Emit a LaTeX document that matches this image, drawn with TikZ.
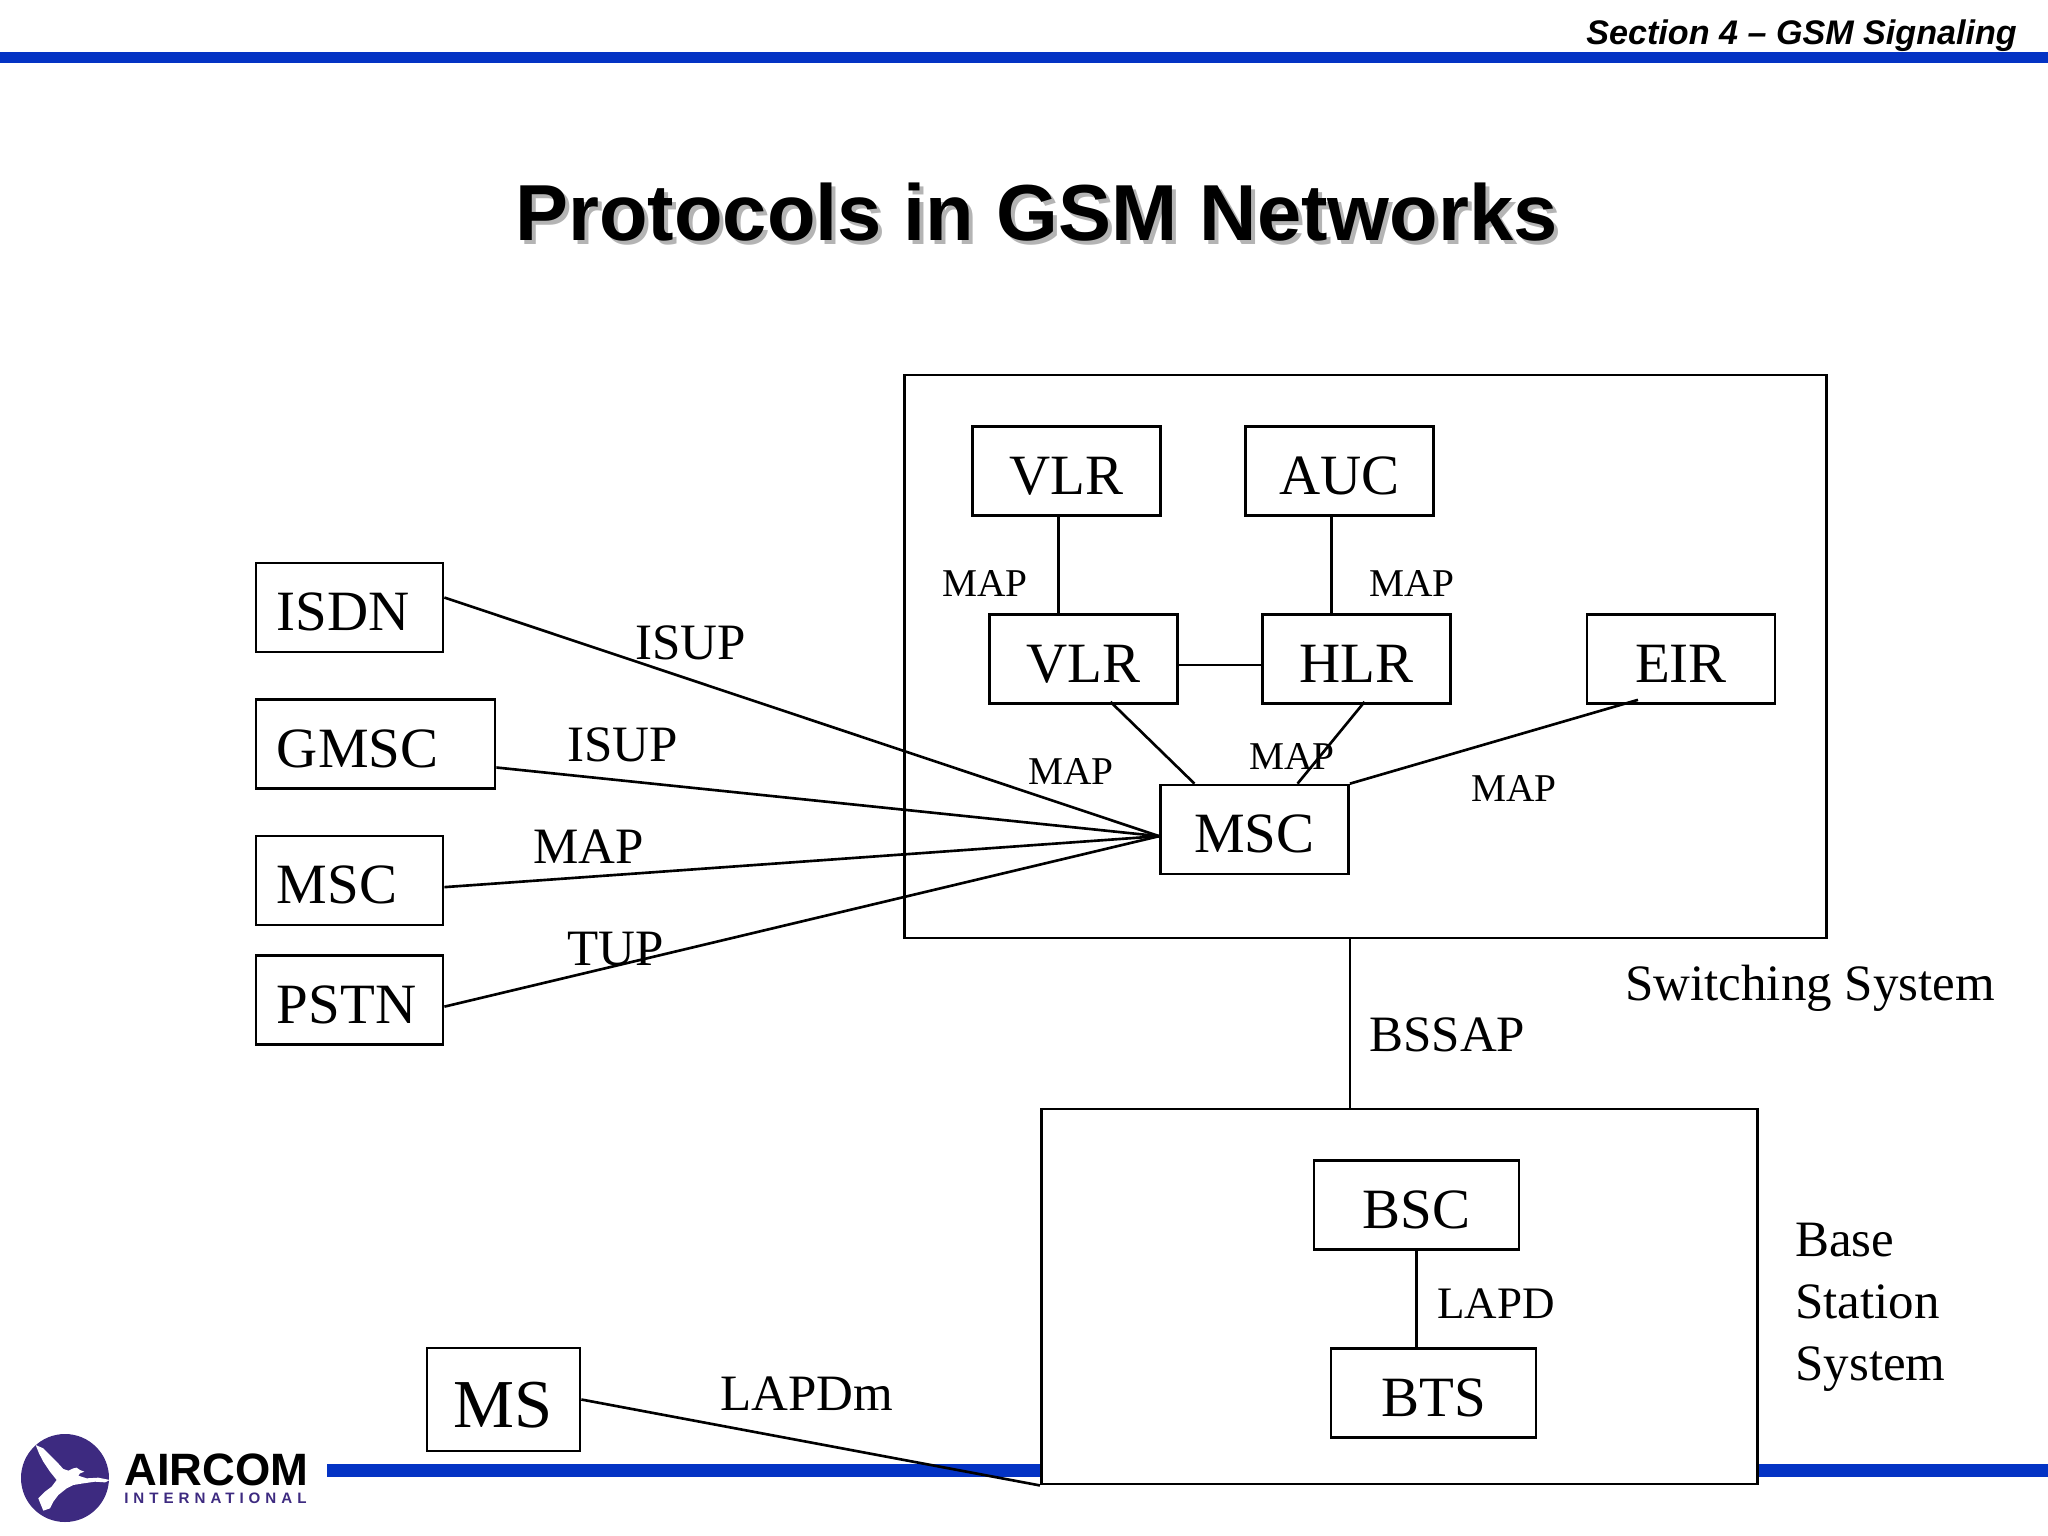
\documentclass[tikz,border=0pt]{standalone}
\usepackage{fontspec}
\setmainfont{Liberation Serif}
\newfontfamily\sansfont{Liberation Sans}
\usetikzlibrary{calc}
\definecolor{barblue}{HTML}{0433C4}
\definecolor{logopurple}{HTML}{3D2A80}
\definecolor{shadowgrey}{HTML}{B4B4B4}
\begin{document}
\begin{tikzpicture}[
    x=0.01cm, y=-0.01cm,
    line width=0.75pt,
    every node/.style={inner sep=0pt},
    group/.style={draw, fill=white},
    box/.style={draw, fill=white, minimum width=1.88cm, minimum height=0.89cm,
      text height=0.46cm, text depth=0pt, font=\fontsize{16.2}{19}\selectfont},
    wide/.style={box, minimum width=2.05cm},
    extbox/.style={box, minimum width=0pt, text width=#1, align=left, inner xsep=0.21cm},
    bigtext/.style={anchor=base west, font=\fontsize{14.5}{17}\selectfont},
    small/.style={anchor=base west, font=\fontsize{11.2}{13}\selectfont},
    link/.style={draw}
  ]
  \useasboundingbox (0,0) rectangle (2048,1536);

  % Slide furniture
  \fill[barblue] (0,52) rectangle (2048,63);
  \fill[barblue] (327,1464) rectangle (2048,1477);
  \node (section) at (2018,44) [anchor=base east, font=\sansfont\fontsize{9.7}{12}\selectfont\bfseries\itshape] {Section 4 – GSM Signaling};
  \node (titleshadow) at (518,244) [anchor=base west, text=shadowgrey, font=\sansfont\fontsize{22.6}{27}\selectfont\bfseries] {Protocols in GSM Networks};
  \node (title) at (514,240) [anchor=base west, font=\sansfont\fontsize{22.6}{27}\selectfont\bfseries] {Protocols in GSM Networks};

  % Logo
  \fill[logopurple] (65,1478) circle (44);
  \begin{scope}[shift={(15,1430)}, scale=1/3]
    \fill[white] (62,45) -- (85,55) -- (105,75) -- (125,95) -- (145,117) -- (160,122) -- (175,115)
      -- (185,113) -- (195,120) -- (208,125) -- (195,130) -- (190,137) -- (215,145) -- (250,143)
      -- (285,150) -- (270,157) -- (240,155) -- (205,160) -- (175,165) -- (155,175) -- (130,195)
      -- (115,215) -- (105,235) -- (85,242) -- (78,225) -- (70,205) -- (90,185) -- (110,170)
      -- (125,150) -- (105,125) -- (85,95) -- (72,70) -- cycle;
  \end{scope}
  \node (aircom) at (123,1485) [anchor=base west, font=\sansfont\fontsize{12.9}{15}\selectfont\bfseries] {AIRCOM};
  \node (intl) at (123,1503) [anchor=base west, text=logopurple, font=\sansfont\fontsize{4.3}{5}\selectfont\bfseries\addfontfeature{LetterSpace=33}] {INTERNATIONAL};

  % Groups
  \node (switching) at (1365.5,656.5) [group, minimum width=9.22cm, minimum height=5.63cm] {};
  \node (bss) at (1399.5,1296.5) [group, minimum width=7.16cm, minimum height=3.75cm] {};

  % External networks
  \node (isdn) at (349.5,607.5) [extbox=1.45cm] {ISDN};
  \node (gmsc) at (375.5,744) [extbox=1.97cm] {GMSC};
  \node (mscext) at (349.5,880.5) [extbox=1.45cm] {MSC};
  \node (pstn) at (349.5,1000) [extbox=1.45cm] {PSTN};
  \node (ms) at (503.5,1399.5) [box, minimum width=1.53cm, minimum height=1.03cm, text height=0.55cm, font=\fontsize{19.5}{22}\selectfont] {MS};

  % Switching system
  \node (vlrtop) at (1066.5,471) [box] {VLR};
  \node (auc) at (1339.5,471) [box] {AUC};
  \node (vlr) at (1083.5,659) [box] {VLR};
  \node (hlr) at (1356.5,659) [box] {HLR};
  \node (eir) at (1681,659) [box] {EIR};
  \node (msc) at (1254.5,829.5) [box] {MSC};

  % Base station system
  \node (bsc) at (1416.5,1205) [wide] {BSC};
  \node (bts) at (1433.5,1393) [wide] {BTS};

  % Connectors
  \draw[link] ([xshift=-0.08cm]vlrtop.south) -- ([xshift=-0.25cm]vlr.north);
  \draw[link] ([xshift=-0.08cm]auc.south) -- ([xshift=-0.25cm]hlr.north);
  \draw[link] ([yshift=-0.06cm]vlr.east) -- ([yshift=-0.06cm]hlr.west);
  \draw[link] ([xshift=0.27cm,yshift=0.03cm]vlr.south) -- ([xshift=-0.60cm]msc.north);
  \draw[link] ([xshift=0.08cm,yshift=0.03cm]hlr.south) -- ([xshift=0.43cm]msc.north);
  \draw[link] ([xshift=-0.43cm,yshift=0.05cm]eir.south) -- (msc.north east);
  \draw[link] (isdn.6) -- (msc.184);
  \draw[link] (gmsc.-11) -- (msc.184);
  \draw[link] (mscext.-4) -- (msc.184);
  \draw[link] (pstn.-4) -- (msc.184);
  \draw[link] (msc.south east |- switching.south) -- (msc.south east |- bss.north);
  \draw[link] (bsc.south) -- (bsc.south |- bts.north);
  \draw[link] (ms.east) -- (bss.south west);

  % Protocol labels
  \node (l1) at (634,659) [bigtext] {ISUP};
  \node (l2) at (566,761) [bigtext] {ISUP};
  \node (l3) at (532,863) [bigtext] {MAP};
  \node (l4) at (566,965) [bigtext] {TUP};
  \node (l5) at (941,596) [small] {MAP};
  \node (l6) at (1368,596) [small] {MAP};
  \node (l7) at (1027,784) [small] {MAP};
  \node (l8) at (1248,769) [small] {MAP};
  \node (l9) at (1470,801) [small] {MAP};
  \node (l10) at (1368,1051) [bigtext] {BSSAP};
  \node (l11) at (1436,1318) [anchor=base west, font=\fontsize{12.8}{15}\selectfont] {LAPD};
  \node (l12) at (719,1410) [bigtext] {LAPDm};
  \node (l13) at (1624,1000) [bigtext] {Switching System};
  \node (l14) at (1794,1307) [anchor=west, align=left, font=\fontsize{14.5}{17.6}\selectfont] {Base\\Station\\System};
\end{tikzpicture}
\end{document}
